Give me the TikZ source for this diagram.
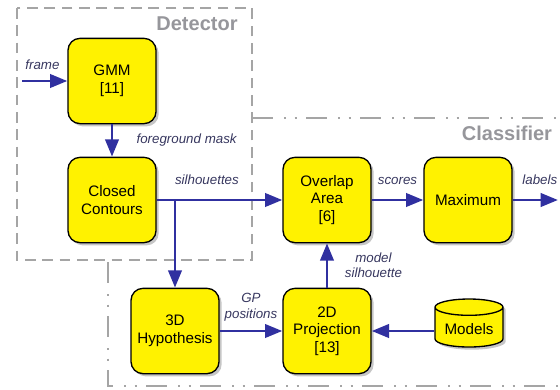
\documentclass[tikz,border=0pt]{standalone}
\usepackage{fontspec}
\setmainfont{Liberation Sans}
\usetikzlibrary{shapes.geometric,shadows,arrows.meta}
\definecolor{flowblue}{RGB}{48,48,160}
\definecolor{grpgray}{RGB}{165,165,165}
\definecolor{headgray}{RGB}{150,150,155}
\definecolor{lblcol}{RGB}{55,55,95}
\begin{document}
\begin{tikzpicture}[x=0.75pt,y=-0.75pt,
		blk/.style={draw,fill=yellow,rounded corners=9pt,line width=1pt,minimum
				width=66pt,minimum height=64pt,inner sep=2pt,align=center,
				font=\fontsize{11.4}{13.2}\selectfont,
				drop shadow={shadow xshift=2pt,shadow yshift=-2pt,opacity=0.45}},
		db/.style={draw,fill=yellow,cylinder,shape border rotate=90,aspect=0.3,
				line width=1pt,minimum width=51pt,minimum height=36pt,inner sep=2pt,
				font=\fontsize{11.4}{13.2}\selectfont,
				drop shadow={shadow xshift=2pt,shadow yshift=-2pt,opacity=0.45}},
		flw/.style={draw=flowblue,line width=2.2pt,-{Triangle[length=13pt,width=10pt]}},
		lbl/.style={font=\fontsize{10}{11.5}\selectfont\itshape,text=lblcol,align=center},
		grp/.style={draw=grpgray,line width=1.6pt},
		head/.style={font=\fontsize{15}{17}\selectfont\bfseries,text=headgray}]
	\useasboundingbox (0,0) rectangle (560,389);
	% groups
	\draw[grp,dash pattern=on 8pt off 5pt] (17,8) rectangle (252,260);
	\draw[grp,dash pattern=on 16pt off 8pt on 1.5pt off 6.5pt on 1.5pt off 7pt]
		(252,118) -- (560,118);
	\draw[grp,dash pattern=on 16pt off 8pt on 1.5pt off 6.5pt on 1.5pt off 7pt]
		(108,262) -- (108,386) -- (560,386);
	\node[head] (dettitle) at (197,24) {Detector};
	\node[head] (clstitle) at (507,133) {Classifier};
	% blocks
	\node[blk] (gmm) at (112,81) {GMM\\{[11]}};
	\node[blk] (closed) at (112,200) {Closed\\Contours};
	\node[blk] (overlap) at (327,200) {Overlap\\Area\\{[6]}};
	\node[blk] (maxi) at (468,200) {Maximum};
	\node[blk] (hyp) at (175,331) {3D\\Hypothesis};
	\node[blk] (proj) at (327,331) {2D\\Projection\\{[13]}};
	\node[db] (models) at (469,329) {Models};
	% flows
	\coordinate (in) at (22,81);
	\coordinate (out) at (558,200);
	\coordinate (br) at (hyp.north |- closed.east);
	\draw[flw] (in) -- node[lbl,above=4pt,pos=0.45] {frame} (gmm);
	\draw[flw] (gmm) -- node[lbl,anchor=west,xshift=14pt] {foreground mask} (closed);
	\draw[flw] (closed) -- node[lbl,above=7pt,pos=0.4] {silhouettes} (overlap);
	\draw[flw] (br) -- (hyp);
	\draw[flw] (hyp) -- node[lbl,above=3pt] {GP\\positions} (proj);
	\draw[flw] (models.west |- proj) -- (proj);
	\draw[flw] (proj) -- node[lbl,anchor=west,xshift=9pt] {model\\silhouette} (overlap);
	\draw[flw] (overlap) -- node[lbl,above=7pt] {scores} (maxi);
	\draw[flw] (maxi) -- node[lbl,above=7pt,pos=0.6] {labels} (out);
\end{tikzpicture}
\end{document}
